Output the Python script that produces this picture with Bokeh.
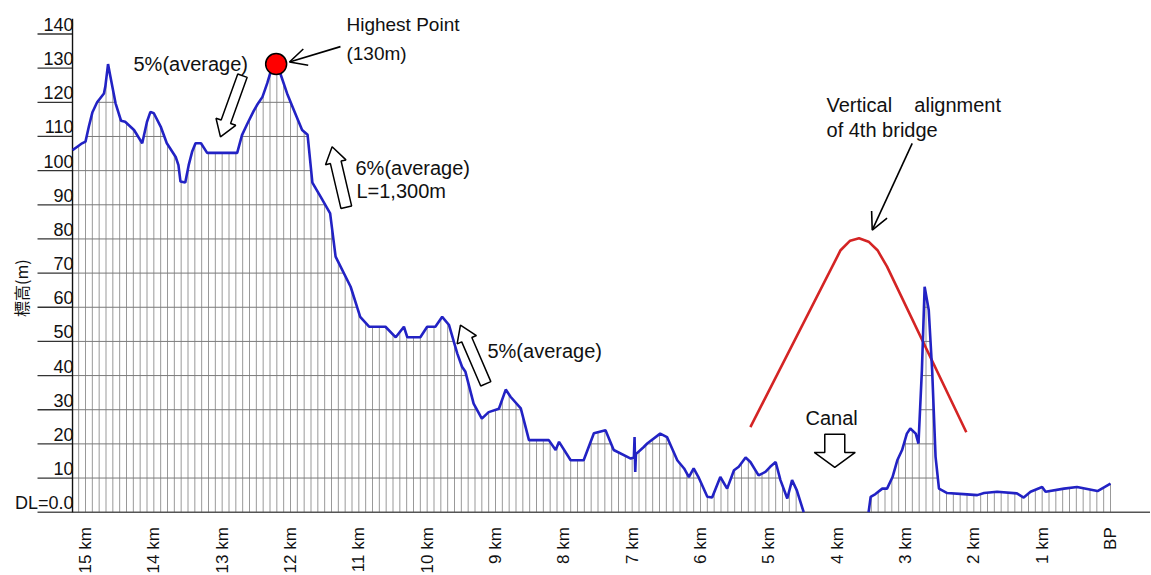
import numpy as np
from bokeh.plotting import figure
from bokeh.models import Range1d, Arrow, OpenHead
from bokeh.core.properties import value
from bokeh.embed import file_html
from bokeh.resources import INLINE

# ---------------- data ----------------
# ground profile west of the canal: distance from BP (km), elevation (m)
west_km = [15.19, 15.12, 15.05, 15.00, 14.95, 14.90, 14.83, 14.73, 14.71, 14.67,
           14.64, 14.56, 14.48, 14.42, 14.29, 14.17, 14.10, 14.05, 14.00, 13.90,
           13.81, 13.68, 13.64, 13.61, 13.54, 13.49, 13.44, 13.39, 13.31, 13.22,
           12.78, 12.71, 12.63, 12.54, 12.49, 12.41, 12.34, 12.29, 12.21, 12.15,
           12.05, 11.95, 11.83, 11.75, 11.68, 11.56, 11.42, 11.34, 11.12, 10.98,
           10.85, 10.61, 10.46, 10.34, 10.29, 10.10, 10.00, 9.88, 9.78, 9.68,
           9.56, 9.49, 9.44, 9.32, 9.20, 9.10, 8.95, 8.85, 8.78, 8.63,
           8.51, 8.22, 8.12, 8.07, 7.90, 7.71, 7.56, 7.39, 7.27, 7.02,
           6.975, 6.965, 6.955, 6.945, 6.83, 6.78, 6.59, 6.49, 6.34, 6.24,
           6.17, 6.10, 6.03, 5.90, 5.83, 5.71, 5.61, 5.51, 5.44, 5.34,
           5.27, 5.15, 5.05, 4.98, 4.90, 4.83, 4.73, 4.66, 4.59, 4.49]
west_m = [106.0, 107.0, 108.0, 108.5, 113.0, 117.0, 120.0, 122.6, 124.6, 131.2,
          128.0, 119.7, 114.6, 114.3, 111.9, 108.0, 114.3, 117.2, 116.8, 112.9,
          108.0, 104.0, 101.6, 96.8, 96.5, 101.6, 105.5, 108.0, 108.0, 105.2,
          105.2, 110.4, 113.8, 117.4, 119.2, 121.6, 125.6, 129.0, 131.0, 128.5,
          122.6, 117.7, 111.9, 110.5, 96.5, 92.4, 87.5, 74.8, 66.0, 57.2,
          54.3, 54.3, 51.2, 54.3, 51.2, 51.2, 54.3, 54.3, 57.2, 54.8,
          46.5, 42.6, 41.1, 31.8, 27.4, 29.3, 30.3, 35.9, 33.8, 30.4,
          21.1, 21.1, 18.2, 20.6, 15.2, 15.2, 23.1, 24.0, 18.2, 15.7,
          16.0, 22.0, 11.8, 17.0, 19.1, 20.1, 23.0, 22.0, 15.2, 12.8,
          10.3, 12.8, 10.3, 4.5, 4.3, 10.3, 6.9, 12.3, 13.3, 16.0,
          14.7, 10.8, 11.8, 13.3, 14.7, 9.4, 4.0, 9.4, 6.4, 0.0]
# ground profile east of the canal
east_km = [3.54, 3.51, 3.44, 3.34, 3.27, 3.19, 3.12, 3.05, 2.98, 2.93,
           2.85, 2.81, 2.76, 2.72, 2.66, 2.61, 2.56, 2.51, 2.39, 2.15,
           1.95, 1.85, 1.66, 1.37, 1.27, 1.17, 1.00, 0.95, 0.68, 0.49,
           0.19, 0.00]
east_m = [0.0, 4.5, 5.3, 6.9, 6.9, 10.3, 15.2, 18.2, 23.0, 24.5,
          23.0, 20.1, 41.6, 66.0, 59.2, 41.6, 16.2, 6.9, 5.6, 5.3,
          5.0, 5.6, 6.0, 5.5, 4.3, 6.0, 7.4, 6.0, 6.9, 7.4,
          6.2, 8.4]
# vertical alignment of the 4th bridge
align_km = [5.27, 3.95, 3.81, 3.68, 3.54, 3.41, 3.27, 2.11]
align_m = [24.9, 76.7, 79.5, 80.2, 79.2, 76.7, 71.9, 23.4]
# highest point marker
peak_km = [12.21]
peak_m = [131.2]

# axis ticks
y_levels = list(range(0, 150, 10))
y_labels = ["DL=0.0"] + [str(v) for v in range(10, 150, 10)]
x_ticks = list(range(15, -1, -1))
x_labels = [f"{k} km" for k in range(15, 0, -1)] + ["BP"]
y_title = "標高(m)"

# annotation texts
note_text = ["5%(average)", "6%(average)", "L=1,300m", "5%(average)",
             "Vertical\u00a0\u00a0\u00a0\u00a0alignment", "of 4th bridge", "Canal"]
note_km = [14.298, 11.049, 11.035, 9.118, 4.156, 4.156, 4.464]
note_m = [131.2, 100.9, 94.0, 47.2, 119.2, 111.9, 27.7]
hp_text = ["Highest Point", "(130m)"]
hp_km = [11.181, 11.181]
hp_m = [142.65, 134.4]

# hollow block arrows (tip, tail) and line arrows (start, end)
barrow_tip_km = [13.025, 11.391, 9.513, 4.035]
barrow_tip_m = [109.9, 107.0, 54.8, 13.1]
barrow_tail_km = [12.703, 11.184, 9.142, 4.035]
barrow_tail_m = [127.8, 89.3, 37.6, 22.8]
barrow_shaft_px = [10, 11, 11, 20]
barrow_head_px = [21, 21, 21, 41]
barrow_headlen_px = [16, 16, 16, 15]

larrow_start_km = [11.269, 2.902]
larrow_start_m = [136.3, 108.0]
larrow_end_km = [12.015, 3.487]
larrow_end_m = [131.8, 82.6]

# ---------------- figure ----------------
W, H = 1150, 574
SX = 1025 / 15.0          # px per km
SY = 478.2 / 140.0        # px per m
X0 = 1110 / SX
X1 = X0 - W / SX
Y1 = 511.7 / SY
Y0 = Y1 - H / SY

p = figure(width=W, height=H, x_range=Range1d(X0, X1), y_range=Range1d(Y0, Y1),
           output_backend="svg", toolbar_location=None,
           x_axis_location=None, y_axis_location=None, min_border=0)
p.outline_line_color = None
p.background_fill_color = "white"
p.border_fill_color = "white"
p.xgrid.visible = False
p.ygrid.visible = False

FONT = value("Liberation Sans")
axis_km = west_km[0]
tick_left_km = axis_km + 35 / SX

# vertical hatching every 100 m under the profile
wk = np.array(west_km[::-1]); wm = np.array(west_m[::-1])
ek = np.array(east_km[::-1]); em = np.array(east_m[::-1])
hx, hy = [], []
for pos in np.round(np.arange(0, 15.15, 0.1), 2):
    if wk[0] <= pos <= wk[-1]:
        h = float(np.interp(pos, wk, wm))
    elif ek[0] <= pos <= ek[-1]:
        h = float(np.interp(pos, ek, em))
    else:
        continue
    if h > 0:
        hx.append(pos); hy.append(h)
p.segment(x0=hx, y0=[0] * len(hx), x1=hx, y1=hy, line_color="#999999", line_width=1)


def runs_above(xs, ys, lev):
    out = []
    inside = ys[0] > lev
    start = xs[0]
    for i in range(len(xs) - 1):
        x0, y0, x1, y1 = xs[i], ys[i], xs[i + 1], ys[i + 1]
        a, b = y0 > lev, y1 > lev
        if a != b:
            xc = x0 + (lev - y0) * (x1 - x0) / (y1 - y0)
            if b:
                start = xc
            else:
                out.append((start, xc))
        inside = b
    if inside:
        out.append((start, xs[-1]))
    return out


gx0, gx1, gy = [], [], []
for lev in y_levels[1:]:
    for xs, ys in ((west_km, west_m), (east_km, east_m)):
        for a, b in runs_above(xs, ys, lev):
            gx0.append(a); gx1.append(b); gy.append(lev)
p.segment(x0=gx0, y0=gy, x1=gx1, y1=gy, line_color="#7a7a7a", line_width=1)

# y axis tick lines, baseline, axis line
lv = y_levels[1:]
p.segment(x0=[tick_left_km] * len(lv), y0=lv, x1=[axis_km] * len(lv), y1=lv,
          line_color="#333333", line_width=1.3)
p.segment(x0=[tick_left_km], y0=[0], x1=[X1], y1=[0], line_color="#555555", line_width=1.6)
p.segment(x0=[axis_km], y0=[0], x1=[axis_km], y1=[144.5], line_color="#111111", line_width=1.4)

# tick labels
p.text(x=[axis_km - 1 / SX] * len(y_levels), y=[v + 9.5 / SY for v in y_levels], text=y_labels,
       text_font=FONT, text_font_size="18px", text_align="right",
       text_baseline="middle", text_color="#111111")
p.text(x=x_ticks, y=[-15 / SY] * len(x_ticks), text=x_labels, angle=np.pi / 2,
       text_font=FONT, text_font_size="17px", text_align="right",
       text_baseline="middle", text_color="#111111")
p.text(x=[X0 - 20 / SX], y=[65.6], text=[y_title], angle=np.pi / 2,
       text_font=value("Noto Sans CJK JP"), text_font_size="16px",
       text_align="center", text_baseline="middle", text_color="#111111")

# bridge alignment and ground profile
p.line(align_km, align_m, line_color="#d42424", line_width=2.6)
p.line(west_km, west_m, line_color="#2222c4", line_width=2.6)
p.line(east_km, east_m, line_color="#2222c4", line_width=2.6)

# highest point marker
p.scatter(x=peak_km, y=peak_m, size=21, fill_color="#ff0000", line_color="black", line_width=1.5)

# hollow block arrows
bxs, bys = [], []
for i in range(len(barrow_tip_km)):
    tx, ty = (X0 - barrow_tip_km[i]) * SX, barrow_tip_m[i] * SY
    bx, by = (X0 - barrow_tail_km[i]) * SX, barrow_tail_m[i] * SY
    ux, uy = tx - bx, ty - by
    L = np.hypot(ux, uy); ux /= L; uy /= L
    nx, ny = -uy, ux
    sw, hw, hl = barrow_shaft_px[i] / 2, barrow_head_px[i] / 2, barrow_headlen_px[i]
    cx, cy = tx - ux * hl, ty - uy * hl
    pts = [(bx + nx * sw, by + ny * sw), (cx + nx * sw, cy + ny * sw), (cx + nx * hw, cy + ny * hw),
           (tx, ty), (cx - nx * hw, cy - ny * hw), (cx - nx * sw, cy - ny * sw), (bx - nx * sw, by - ny * sw)]
    bxs.append([X0 - q[0] / SX for q in pts])
    bys.append([q[1] / SY for q in pts])
p.patches(bxs, bys, fill_color="white", line_color="black", line_width=1.5)

# line arrows
for i in range(len(larrow_start_km)):
    p.add_layout(Arrow(end=OpenHead(size=17, line_width=1.6, line_color="black"),
                       x_start=larrow_start_km[i], y_start=larrow_start_m[i],
                       x_end=larrow_end_km[i], y_end=larrow_end_m[i],
                       line_color="black", line_width=1.6))

# annotation texts
p.text(x=note_km, y=note_m, text=note_text, text_font=FONT, text_font_size="20px",
       text_align="left", text_baseline="middle", text_color="#111111")
p.text(x=hp_km, y=hp_m, text=hp_text, text_font=FONT, text_font_size="19px",
       text_align="left", text_baseline="middle", text_color="#111111")

open("out.html", "w").write(file_html(p, INLINE))
